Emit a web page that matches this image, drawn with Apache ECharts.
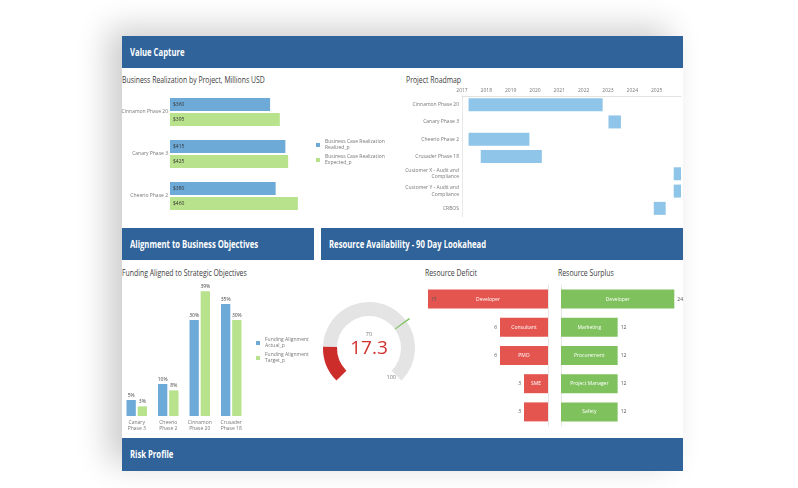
<!DOCTYPE html>
<html>
<head>
<meta charset="utf-8">
<script src="https://cdn.jsdelivr.net/npm/echarts@6/dist/echarts.min.js"></script>
<style>
html, body { margin: 0; padding: 0; width: 798px; height: 488px; background: #fff; overflow: hidden; }
#card { position: absolute; left: 122px; top: 36px; width: 561px; height: 435px; background: #fff;
        box-shadow: -14px -8px 30px rgba(0,0,0,0.2); }
.hdr { position: absolute; background: #2f6399; height: 32px; }
.hdr span { position: absolute; left: 8px; top: 0; color: #fff; white-space: nowrap;
            font: bold 10px 'Open Sans', sans-serif; line-height: 32px;
            transform: scaleX(0.77); transform-origin: 0 50%; }
.ttl { position: absolute; white-space: nowrap; color: #404040;
       font: 8.5px 'Open Sans', sans-serif; line-height: 10px;
       transform: scaleX(0.81); transform-origin: 0 50%; }
#chart { position: absolute; left: 0; top: 0; width: 798px; height: 488px; }
</style>
</head>
<body>
<div id="card"></div>
<div class="hdr" style="left:122px;top:36px;width:561px;"><span>Value Capture</span></div>
<div class="hdr" style="left:122px;top:228px;width:192px;"><span>Alignment to Business Objectives</span></div>
<div class="hdr" style="left:321px;top:228px;width:362px;"><span>Resource Availability - 90 Day Lookahead</span></div>
<div class="hdr" style="left:122px;top:438px;width:561px;height:33px;"><span style="line-height:33px;">Risk Profile</span></div>
<div class="ttl" style="left:122px;top:75px;">Business Realization by Project, Millions USD</div>
<div class="ttl" style="left:406px;top:75px;">Project Roadmap</div>
<div class="ttl" style="left:122px;top:268px;">Funding Aligned to Strategic Objectives</div>
<div class="ttl" style="left:425px;top:268px;">Resource Deficit</div>
<div class="ttl" style="left:558px;top:268px;">Resource Surplus</div>
<div id="chart"></div>
<script>
// business realization (millions USD)
const projects = ['Cinnamon Phase 20', 'Canary Phase 3', 'Cheerio Phase 2'];
const realized = [360, 415, 380];
const expected = [395, 425, 460];

// roadmap, decimal years
const roadmapProjects = ['Cinnamon Phase 20', 'Canary Phase 3', 'Cheerio Phase 2', 'Crusader Phase 18',
  'Customer X - Audit and\nCompliance', 'Customer Y - Audit and\nCompliance', 'CRBOS'];
const roadmapStart = [2017.27, 2023.02, 2017.27, 2017.77, 2025.70, 2025.70, 2024.88];
const roadmapEnd   = [2022.78, 2023.53, 2019.77, 2020.28, 2026.00, 2026.00, 2025.37];

// funding alignment, percent
const fundingProjects = ['Canary\nPhase 3', 'Cheerio\nPhase 2', 'Cinnamon\nPhase 20', 'Crusader\nPhase 18'];
const fundingActual = [5, 10, 30, 35];
const fundingTarget = [3, 8, 39, 30];

// gauge
const gaugeValue = 17.3;
const gaugeTarget = 70;
const gaugeMax = 100;

// resources
const deficitRoles = ['Developer', 'Consultant', 'PMO', 'SME', 'Business Analyst'];
const deficitCounts = [15, 6, 6, 3, 3];
const surplusRoles = ['Developer', 'Marketing', 'Procurement', 'Project Manager', 'Safety'];
const surplusCounts = [24, 12, 12, 12, 12];

const SMALL = "'Open Sans', sans-serif";
const BLUE = '#6eaad8', GREEN = '#b8e28c';

var chart = echarts.init(document.getElementById('chart'));

function legendAt(x, y, names) {
  return { left: x, top: y, orient: 'vertical', itemWidth: 4, itemHeight: 4, itemGap: 3,
    icon: 'rect', data: names, padding: 0,
    textStyle: { fontFamily: SMALL, fontSize: 5, color: '#777', lineHeight: 6 } };
}
const hidden = { show: false };

// label only when the role name fits inside its bar
function fitName(names, pxPerUnit) {
  return function (p) {
    var n = names[p.dataIndex];
    return n.length * 3.1 < p.value * pxPerUnit - 4 ? n : '';
  };
}

var option = {
  animation: false,
  textStyle: { fontFamily: SMALL },
  legend: [
    legendAt(316, 139, ['Business Case Realization\nRealized_p', 'Business Case Realization\nExpected_p']),
    legendAt(256, 337, ['Funding Alignment\nActual_p', 'Funding Alignment\nTarget_p'])
  ],
  grid: [
    { left: 170, top: 91, width: 139, height: 126 },
    { left: 462, top: 96, width: 219, height: 121 },
    { left: 121, top: 288, width: 126, height: 128 },
    { left: 428, top: 285, width: 120, height: 141 },
    { left: 561, top: 285, width: 113.3, height: 141 }
  ],
  xAxis: [
    { gridIndex: 0, type: 'value', min: 0, max: 500, show: false },
    { gridIndex: 1, type: 'value', position: 'top', min: 2017, max: 2026, interval: 1,
      axisLine: { show: true, lineStyle: { color: '#e2e2e2' } }, axisTick: hidden, splitLine: hidden,
      axisLabel: { fontSize: 5, color: '#777', margin: 3, showMaxLabel: false,
        formatter: function (v) { return String(v); } } },
    { gridIndex: 2, type: 'category', data: fundingProjects, axisLine: hidden, axisTick: hidden,
      axisLabel: { fontSize: 5, color: '#777', lineHeight: 6, margin: 4 } },
    { gridIndex: 3, type: 'value', min: 0, max: 15, inverse: true, show: false },
    { gridIndex: 4, type: 'value', min: 0, max: 24, show: false }
  ],
  yAxis: [
    { gridIndex: 0, type: 'category', data: projects, inverse: true, axisLine: hidden, axisTick: hidden,
      axisLabel: { fontSize: 5, color: '#777', margin: 2 } },
    { gridIndex: 1, type: 'category', data: roadmapProjects, inverse: true, axisTick: hidden,
      axisLine: { show: true, lineStyle: { color: '#e8e8e8' } },
      axisLabel: { fontSize: 5, color: '#777', margin: 3, lineHeight: 6.5 } },
    { gridIndex: 2, type: 'value', min: 0, max: 40, show: false },
    { gridIndex: 3, type: 'category', data: deficitRoles, inverse: true, position: 'right',
      axisTick: hidden, axisLabel: hidden, axisLine: { show: true, lineStyle: { color: '#e8e8e8' } } },
    { gridIndex: 4, type: 'category', data: surplusRoles, inverse: true,
      axisTick: hidden, axisLabel: hidden, axisLine: { show: true, lineStyle: { color: '#e8e8e8' } } }
  ],
  series: [
    { name: 'Business Case Realization\nRealized_p', type: 'bar', xAxisIndex: 0, yAxisIndex: 0,
      data: realized, barWidth: 13, barGap: '15%', itemStyle: { color: BLUE },
      label: { show: true, position: 'insideLeft', formatter: '${c}', fontSize: 5, color: '#333', distance: 3 } },
    { name: 'Business Case Realization\nExpected_p', type: 'bar', xAxisIndex: 0, yAxisIndex: 0,
      data: expected, barWidth: 13, barGap: '15%', itemStyle: { color: GREEN },
      label: { show: true, position: 'insideLeft', formatter: '${c}', fontSize: 5, color: '#333', distance: 3 } },

    { type: 'bar', xAxisIndex: 1, yAxisIndex: 1, stack: 'road', barWidth: 13, silent: true,
      data: roadmapStart, itemStyle: { color: 'rgba(0,0,0,0)' } },
    { type: 'bar', xAxisIndex: 1, yAxisIndex: 1, stack: 'road', barWidth: 13,
      data: roadmapEnd.map(function (e, i) { return +(e - roadmapStart[i]).toFixed(2); }),
      itemStyle: { color: '#8ec5e8' } },

    { name: 'Funding Alignment\nActual_p', type: 'bar', xAxisIndex: 2, yAxisIndex: 2,
      data: fundingActual, barWidth: 9.3, barGap: '20%', itemStyle: { color: BLUE },
      label: { show: true, position: 'top', formatter: '{c}%', fontSize: 5, color: '#444', distance: 2 } },
    { name: 'Funding Alignment\nTarget_p', type: 'bar', xAxisIndex: 2, yAxisIndex: 2,
      data: fundingTarget, barWidth: 9.3, barGap: '20%', itemStyle: { color: GREEN },
      label: { show: true, position: 'top', formatter: '{c}%', fontSize: 5, color: '#444', distance: 2 } },

    { type: 'gauge', center: [369, 348], radius: 46, startAngle: 225, endAngle: -45, min: 0, max: gaugeMax,
      axisLine: { lineStyle: { width: 14, color: [[gaugeValue / gaugeMax, '#cc2d2a'], [1, '#e4e4e4']] } },
      pointer: hidden, axisTick: hidden, splitLine: hidden, title: hidden,
      axisLabel: { distance: -15, fontSize: 5.5, color: '#777', padding: [0, 2, 0, 0],
        formatter: function (v) { return v === gaugeMax ? String(v) : ''; } },
      detail: { offsetCenter: [0, 1], fontSize: 19, fontWeight: 'normal', color: '#d1322e',
        fontFamily: SMALL, formatter: '{value}' },
      data: [{ value: gaugeValue }] },
    { type: 'gauge', center: [369, 348], radius: 50, startAngle: 225, endAngle: -45, min: 0, max: gaugeMax,
      axisLine: { lineStyle: { width: 18, color: [
        [gaugeTarget / gaugeMax - 0.003, 'rgba(0,0,0,0)'],
        [gaugeTarget / gaugeMax + 0.003, '#7cc25a'],
        [1, 'rgba(0,0,0,0)']] } },
      pointer: hidden, axisTick: hidden, splitLine: hidden, axisLabel: hidden, title: hidden,
      detail: { offsetCenter: [0, -14], fontSize: 5.5, fontWeight: 'normal', color: '#777', formatter: '{value}' },
      data: [{ value: gaugeTarget }] },

    { type: 'bar', xAxisIndex: 3, yAxisIndex: 3, data: deficitCounts, barWidth: 19, barGap: '-100%',
      itemStyle: { color: '#e5554f' },
      label: { show: true, position: 'inside', color: '#fff', fontSize: 5, formatter: fitName(deficitRoles, 8) } },
    { type: 'bar', xAxisIndex: 3, yAxisIndex: 3, barWidth: 19, barGap: '-100%', silent: true,
      data: deficitCounts.map(function (v) {
        return { value: v, label: { position: v === 15 ? 'insideLeft' : 'left' } };
      }),
      itemStyle: { color: 'rgba(0,0,0,0)' },
      label: { show: true, color: '#555', fontSize: 5, distance: 3 } },

    { type: 'bar', xAxisIndex: 4, yAxisIndex: 4, data: surplusCounts, barWidth: 19, barGap: '-100%',
      itemStyle: { color: '#7fc25d' },
      label: { show: true, position: 'inside', color: '#fff', fontSize: 5, formatter: fitName(surplusRoles, 4.72) } },
    { type: 'bar', xAxisIndex: 4, yAxisIndex: 4, data: surplusCounts, barWidth: 19, barGap: '-100%', silent: true,
      itemStyle: { color: 'rgba(0,0,0,0)' },
      label: { show: true, position: 'right', color: '#555', fontSize: 5, distance: 3 } }
  ],
  color: [BLUE, GREEN, BLUE, BLUE, BLUE, GREEN]
};

chart.setOption(option);
</script>
</body>
</html>
